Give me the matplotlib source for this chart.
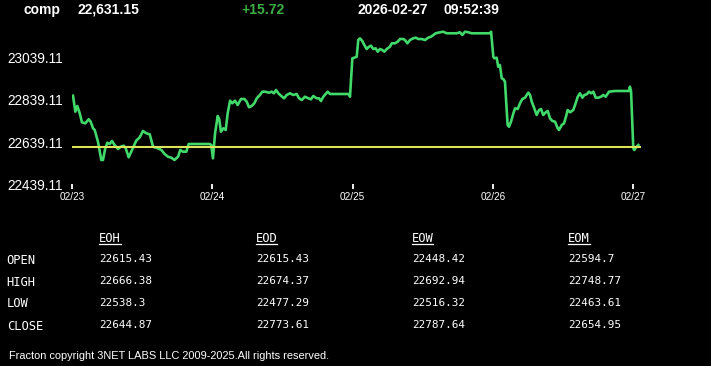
import matplotlib
matplotlib.use('Agg')
import matplotlib.pyplot as plt
from matplotlib.lines import Line2D

W, H = 711, 366

# header
symbol = 'comp'
last_price = '22,631.15'
change = '+15.72'
stamp_date = '2026-02-27'
stamp_time = '09:52:39'

# intraday trace, x = days since 02/23
days = [0.007, 0.024, 0.038, 0.055, 0.071, 0.095, 0.119, 0.133, 0.150, 0.162,
        0.185, 0.209, 0.221, 0.237, 0.252, 0.269, 0.285, 0.304, 0.328, 0.347,
        0.369, 0.383, 0.404, 0.428, 0.458, 0.483, 0.506, 0.530, 0.554, 0.578,
        0.613, 0.637, 0.661, 0.684, 0.708, 0.731, 0.756, 0.772, 0.791, 0.815,
        0.832, 0.922, 0.982, 0.993, 1.005, 1.020, 1.039, 1.050, 1.062, 1.079,
        1.096, 1.110, 1.127, 1.143, 1.162, 1.181, 1.205, 1.229, 1.246, 1.262,
        1.281, 1.300, 1.317, 1.340, 1.357, 1.376, 1.405, 1.424, 1.440, 1.455,
        1.471, 1.490, 1.512, 1.531, 1.554, 1.578, 1.602, 1.619, 1.638, 1.661,
        1.685, 1.704, 1.720, 1.745, 1.761, 1.775, 1.792, 1.809, 1.823, 1.840,
        1.899, 1.975, 1.982, 1.999, 2.013, 2.030, 2.041, 2.053, 2.070, 2.084,
        2.101, 2.118, 2.132, 2.148, 2.165, 2.180, 2.196, 2.212, 2.227, 2.244,
        2.267, 2.280, 2.303, 2.322, 2.339, 2.362, 2.374, 2.391, 2.410, 2.433,
        2.451, 2.469, 2.493, 2.517, 2.540, 2.560, 2.576, 2.593, 2.624, 2.647,
        2.671, 2.695, 2.718, 2.743, 2.766, 2.783, 2.802, 2.826, 2.850, 2.980,
        2.988, 3.004, 3.011, 3.028, 3.039, 3.051, 3.064, 3.075, 3.087, 3.106,
        3.116, 3.130, 3.147, 3.159, 3.178, 3.194, 3.211, 3.230, 3.242, 3.254,
        3.266, 3.278, 3.296, 3.313, 3.330, 3.344, 3.360, 3.378, 3.392, 3.408,
        3.425, 3.444, 3.463, 3.472, 3.492, 3.508, 3.522, 3.534, 3.551, 3.574,
        3.591, 3.606, 3.622, 3.639, 3.653, 3.670, 3.686, 3.701, 3.717, 3.734,
        3.753, 3.772, 3.788, 3.805, 3.829, 3.872, 3.971, 3.978, 3.986, 4.002,
        4.009, 4.026, 4.038]
values = [22857.6, 22782.2, 22809.1, 22774.7, 22732.2, 22727.5, 22746.4, 22735.1, 22704.0, 22696.0,
          22640.8, 22554.6, 22554.6, 22609.7, 22636.1, 22630.0, 22644.1, 22625.3, 22606.4, 22617.3,
          22622.0, 22609.7, 22567.3, 22601.7, 22645.5, 22661.6, 22691.2, 22680.4, 22675.7, 22617.3,
          22609.7, 22601.7, 22582.8, 22570.1, 22565.4, 22554.6, 22570.1, 22601.7, 22593.7, 22593.7,
          22630.0, 22630.0, 22630.0, 22625.3, 22562.6, 22680.4, 22761.9, 22746.4, 22687.9, 22704.0,
          22696.0, 22774.7, 22834.0, 22821.8, 22834.0, 22813.8, 22842.1, 22842.1, 22829.3, 22802.9,
          22809.1, 22821.8, 22845.4, 22860.9, 22876.5, 22876.5, 22871.8, 22876.5, 22868.9, 22884.5,
          22868.9, 22857.6, 22845.4, 22860.9, 22868.9, 22860.9, 22865.6, 22845.4, 22837.3, 22852.9,
          22845.4, 22840.6, 22856.2, 22845.4, 22845.4, 22832.6, 22852.9, 22865.6, 22876.5, 22865.6,
          22865.6, 22865.6, 22852.9, 23033.9, 23036.7, 23041.4, 23120.1, 23128.1, 23115.4, 23096.6,
          23077.7, 23088.6, 23093.3, 23077.7, 23081.0, 23065.0, 23077.7, 23073.0, 23065.0, 23077.7,
          23088.6, 23104.6, 23104.6, 23112.1, 23124.8, 23124.8, 23120.1, 23104.6, 23120.1, 23128.1,
          23131.0, 23124.8, 23124.8, 23120.1, 23131.0, 23135.7, 23143.7, 23151.7, 23156.4, 23159.2,
          23151.7, 23151.7, 23151.7, 23151.7, 23156.4, 23143.7, 23159.2, 23156.4, 23151.7, 23151.7,
          23159.2, 23041.4, 23033.9, 23036.7, 22994.3, 23002.3, 22939.6, 22936.3, 22923.6, 22719.5,
          22711.5, 22735.1, 22774.7, 22798.2, 22794.9, 22821.8, 22842.1, 22848.2, 22860.9, 22871.8,
          22860.9, 22829.3, 22798.2, 22766.7, 22790.2, 22794.9, 22766.7, 22779.4, 22785.5, 22751.1,
          22738.4, 22735.1, 22704.0, 22696.0, 22719.5, 22727.5, 22758.6, 22790.2, 22779.4, 22790.2,
          22821.8, 22852.9, 22868.9, 22848.2, 22860.9, 22864.2, 22876.5, 22868.9, 22876.5, 22848.2,
          22848.2, 22852.9, 22860.9, 22852.9, 22876.5, 22879.8, 22879.8, 22900.0, 22879.8, 22609.7,
          22601.7, 22617.3, 22625.3]
prev_close = 22615.43

day_labels = ['02/23', '02/24', '02/25', '02/26', '02/27']
y_ticks = [22439.11, 22639.11, 22839.11, 23039.11]

# summary table
columns = ['EOH', 'EOD', 'EOW', 'EOM']
rows = ['OPEN', 'HIGH', 'LOW', 'CLOSE']
eoh = ['22615.43', '22666.38', '22538.3', '22644.87']
eod = ['22615.43', '22674.37', '22477.29', '22773.61']
eow = ['22448.42', '22692.94', '22516.32', '22787.64']
eom = ['22594.7', '22748.77', '22463.61', '22654.95']
footer = 'Fracton copyright 3NET LABS LLC 2009-2025.All rights reserved.'

GREEN = '#42d96b'
YELLOW = '#dce35b'
UP = '#3cb043'


def fx(x):
    return x / W


def fy(y):
    return 1 - y / H


fig = plt.figure(figsize=(W / 100, H / 100), dpi=100, facecolor='black')

ax = fig.add_axes([fx(72), fy(184.5), (641 - 72) / W, (184.5 - 14.75) / H])
ax.set_facecolor('black')
ax.plot(days, values, color=GREEN, lw=1.9, solid_joinstyle='round')
ax.axhline(prev_close, color=YELLOW, lw=1.5)
ax.set_xlim(0, 4.057)
ax.set_ylim(22439.11, 23239.11)
for s in ax.spines.values():
    s.set_visible(False)

ax.set_xticks(range(len(day_labels)))
ax.set_xticklabels(day_labels, fontfamily='Liberation Sans', fontsize=7.2, color='white')
ax.tick_params(axis='x', colors='white', length=3.3, width=1.3, pad=1.8)
ax.set_yticks(y_ticks)
ax.set_yticklabels(['%.2f' % v for v in y_ticks], fontfamily='Liberation Sans',
                   fontsize=9.8, color='white', ha='left')
ax.tick_params(axis='y', length=0, pad=46.4)

# header line
hdr = dict(fontfamily='Liberation Sans', fontweight='bold', fontsize=10, va='baseline')
fig.text(fx(23), fy(14), symbol, color='white', **hdr)
fig.text(fx(78), fy(14), last_price, color='white', **hdr)
fig.text(fx(241), fy(14), change, color=UP, **hdr)
fig.text(fx(357), fy(14), stamp_date, color='white', **hdr)
fig.text(fx(443), fy(14), stamp_time, color='white', **hdr)

# table
col_x = [99.3, 255.7, 411.7, 568.3]
val_base = [262.3, 284.0, 306.3, 328.0]
lab_base = [264.0, 285.5, 307.2, 329.5]
mono = dict(fontfamily='DejaVu Sans Mono', color='white', va='baseline')
heads = []
for cx, name in zip(col_x, columns):
    heads.append(fig.text(fx(cx), fy(242.3), name, fontsize=8.7, **mono))
for yb, name in zip(lab_base, rows):
    fig.text(fx(6.7), fy(yb), name, fontsize=8.7, **mono)
for cx, col in zip(col_x, [eoh, eod, eow, eom]):
    for yb, v in zip(val_base, col):
        fig.text(fx(cx), fy(yb), v, fontsize=7.9, **mono)

fig.canvas.draw()
r = fig.canvas.get_renderer()
for t in heads:
    bb = t.get_window_extent(r)
    fig.add_artist(Line2D([bb.x0 / W, bb.x1 / W], [fy(244.2), fy(244.2)],
                          color='white', lw=0.9))

fig.text(fx(9.3), fy(358.7), footer, fontfamily='Liberation Sans', fontsize=7.95,
         color='white', va='baseline')

fig.savefig('out.png', dpi=100, facecolor='black')
